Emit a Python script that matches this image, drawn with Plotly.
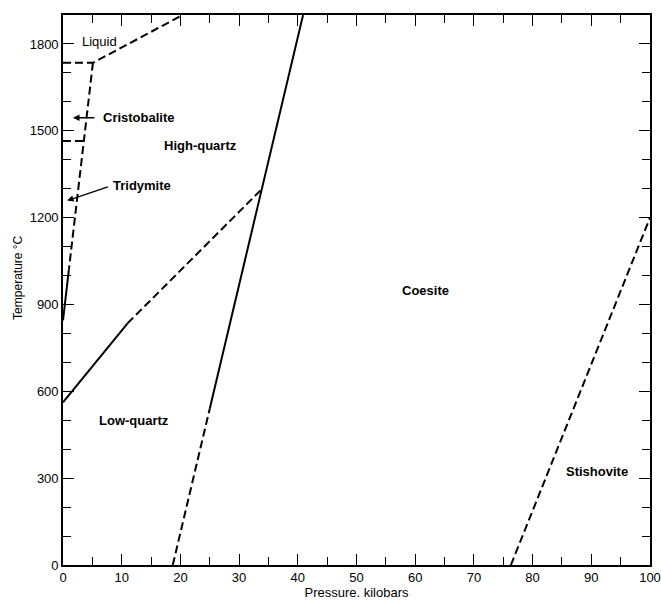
import plotly.graph_objects as go

# ---- data (pressure in kilobars, temperature in °C) ----
liquidus_P = [0, 5.1, 20.4]
liquidus_T = [1735, 1735, 1900]

cristo_trid_P = [0, 3.5]
cristo_trid_T = [1465, 1465]

hiq_upper_dashed_P = [5.1, 1.0]
hiq_upper_dashed_T = [1735, 1020]
hiq_lower_solid_P = [1.0, 0]
hiq_lower_solid_T = [1020, 845]

lowhigh_solid_P = [0, 11.0]
lowhigh_solid_T = [562, 835]
lowhigh_dashed_P = [11.0, 33.8]
lowhigh_dashed_T = [835, 1297]

qc_dashed_P = [18.7, 25.0]
qc_dashed_T = [0, 540]
qc_solid_P = [25.0, 40.9]
qc_solid_T = [540, 1900]

cs_dashed_P = [76.3, 100]
cs_dashed_T = [0, 1200]

phase_names = ["Liquid", "Cristobalite", "High-quartz", "Tridymite", "Coesite", "Low-quartz", "Stishovite"]
phase_P = [6.3, 12.9, 23.5, 13.5, 61.8, 12.1, 91.0]
phase_T = [1807, 1545, 1448, 1310, 948, 500, 324]
phase_bold = [False, True, True, True, True, True, True]

x_ticks = [0, 10, 20, 30, 40, 50, 60, 70, 80, 90, 100]
y_ticks = [0, 300, 600, 900, 1200, 1500, 1800]

FONT = "Liberation Sans, Arial, sans-serif"
DASH = "8px,4px"
LW = 2

fig = go.Figure()

def add_line(P, T, dashed):
    fig.add_trace(go.Scatter(
        x=P, y=T, mode="lines",
        line=dict(color="black", width=LW, dash=DASH if dashed else "solid"),
        cliponaxis=False, showlegend=False, hoverinfo="skip"))

add_line(liquidus_P, liquidus_T, True)
add_line(cristo_trid_P, cristo_trid_T, True)
add_line(hiq_upper_dashed_P, hiq_upper_dashed_T, True)
add_line(hiq_lower_solid_P, hiq_lower_solid_T, False)
add_line(lowhigh_solid_P, lowhigh_solid_T, False)
add_line(lowhigh_dashed_P, lowhigh_dashed_T, True)
add_line(qc_dashed_P, qc_dashed_T, True)
add_line(qc_solid_P, qc_solid_T, False)
add_line(cs_dashed_P, cs_dashed_T, True)

annotations = []
for name, p, t, b in zip(phase_names, phase_P, phase_T, phase_bold):
    annotations.append(dict(
        x=p, y=t, xref="x", yref="y", text=f"<b>{name}</b>" if b else name,
        showarrow=False, font=dict(family=FONT, size=13, color="black")))

# pointer arrows
annotations.append(dict(x=1.7, y=1545, ax=5.6, ay=1545, xref="x", yref="y",
                        axref="x", ayref="y", text="", showarrow=True,
                        arrowhead=2, arrowsize=1, arrowwidth=1.3, arrowcolor="black"))
annotations.append(dict(x=0.7, y=1259, ax=7.9, ay=1308, xref="x", yref="y",
                        axref="x", ayref="y", text="", showarrow=True,
                        arrowhead=2, arrowsize=1, arrowwidth=1.3, arrowcolor="black"))

# y-axis title as rotated annotation
annotations.append(dict(x=-0.0767, y=0.522, xref="paper", yref="paper",
                        xanchor="center", yanchor="middle",
                        text="Temperature °C", textangle=-90, showarrow=False,
                        font=dict(family=FONT, size=12, color="black")))

axis_common = dict(
    showline=True, linecolor="black", linewidth=1.6, mirror="ticks",
    ticks="inside", tickcolor="black", tickwidth=1.2,
    showgrid=False, zeroline=False, automargin=False,
    tickfont=dict(family=FONT, size=13, color="black"),
)

fig.update_layout(
    width=661, height=602,
    margin=dict(l=63, r=11, t=15, b=37, autoexpand=False),
    paper_bgcolor="white", plot_bgcolor="white",
    showlegend=False,
    annotations=annotations,
    xaxis=dict(range=[0, 100], tickvals=x_ticks, ticklen=11,
               minor=dict(dtick=5, ticks="inside", ticklen=8, tickcolor="black", tickwidth=1.2),
               title=dict(text="Pressure. kilobars", standoff=2,
                          font=dict(family=FONT, size=13, color="black")),
               **axis_common),
    yaxis=dict(range=[0, 1900], tickvals=y_ticks, ticklen=11,
               minor=dict(dtick=100, ticks="inside", ticklen=8, tickcolor="black", tickwidth=1.2),
               **axis_common),
)

fig.write_html("out.html", config={"displayModeBar": False},
               post_script="document.body.style.margin='0';document.body.style.padding='0';")
